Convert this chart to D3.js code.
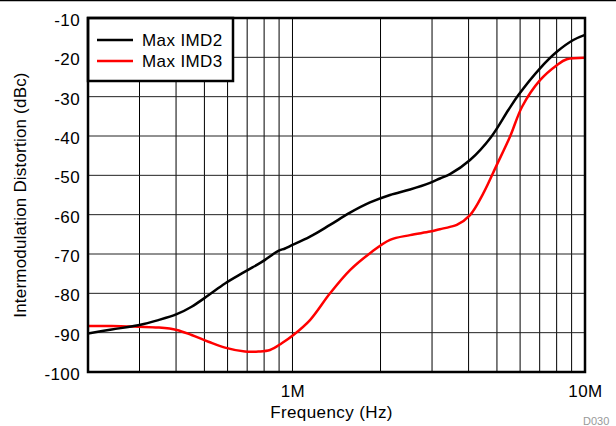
<!DOCTYPE html>
<html>
<head>
<meta charset="utf-8">
<script src="https://cdn.jsdelivr.net/npm/d3@7"></script>
<style>
  body { margin: 0; background: #fff; }
  svg { display: block; }
  text { font-family: "Liberation Sans", Arial, Helvetica, sans-serif; }
</style>
</head>
<body>
<svg id="chart" width="616" height="426"></svg>
<script>
// ---- Data ----
const seriesNames = ["Max IMD2", "Max IMD3"];
const seriesColors = ["#000000", "#ff0000"];

const imd2Freq = [200e3, 241e3, 297e3, 348e3, 402e3, 452e3, 516e3, 588e3, 688e3, 806e3, 849e3, 895e3, 943e3, 981e3,
  1.148e6, 1.344e6, 1.573e6, 1.841e6, 2.155e6, 2.523e6, 2.953e6, 3.193e6, 3.455e6, 4.046e6, 4.77e6, 5.47e6,
  5.92e6, 7.02e6, 8.01e6, 9.12e6, 10e6];
const imd2Val = [-90.2, -89.2, -88.1, -86.8, -85.3, -83.4, -80.5, -77.5, -74.5, -71.5, -70.3, -69.2, -68.6, -68.0,
  -65.6, -62.6, -59.5, -56.9, -55.0, -53.6, -51.9, -50.8, -49.7, -46.1, -40.3, -33.4,
  -29.6, -22.8, -18.6, -15.6, -14.3];

const imd3Freq = [200e3, 241e3, 297e3, 348e3, 402e3, 452e3, 516e3, 588e3, 688e3, 764e3, 838e3, 919e3, 1.007e6,
  1.148e6, 1.344e6, 1.573e6, 1.841e6, 2.155e6, 2.523e6, 2.953e6, 3.193e6, 3.455e6, 3.645e6, 4.046e6, 4.49e6,
  4.99e6, 5.54e6, 6.1e6, 7.02e6, 8.01e6, 8.66e6, 10e6];
const imd3Val = [-88.3, -88.3, -88.5, -88.7, -89.3, -90.6, -92.3, -93.8, -94.8, -94.8, -94.4, -92.7, -90.6,
  -86.8, -80.0, -74.1, -69.8, -66.4, -65.2, -64.3, -63.7, -63.1, -62.6, -60.1, -54.6,
  -47.4, -40.2, -32.5, -25.8, -22.0, -20.5, -20.1];

const yTicks = [-10, -20, -30, -40, -50, -60, -70, -80, -90, -100];
const xGrid = [300e3, 400e3, 500e3, 600e3, 700e3, 800e3, 900e3, 1e6, 2e6, 3e6, 4e6, 5e6, 6e6, 7e6, 8e6, 9e6];
const xTickValues = [1e6, 10e6];
const xTickLabels = ["1M", "10M"];
const xTitle = "Frequency (Hz)";
const yTitle = "Intermodulation Distortion (dBc)";
const figId = "D030";

// ---- Layout ----
const svg = d3.select("#chart");
const W = 616, H = 426;
const L = 88, R = 585, T = 18, B = 372;

const x = d3.scaleLog().domain([200e3, 10e6]).range([L, R]);
const y = d3.scaleLinear().domain([-100, -10]).range([B, T]);

// top rule
svg.append("line").attr("x1", 0).attr("x2", W).attr("y1", 0.5).attr("y2", 0.5)
  .attr("stroke", "#000").attr("stroke-width", 1.5);

// grid
const grid = svg.append("g");
grid.selectAll("line.v").data(xGrid).join("line").attr("class", "v")
  .attr("x1", d => x(d)).attr("x2", d => x(d)).attr("y1", T).attr("y2", B)
  .attr("stroke", "#000").attr("stroke-width", 1);
grid.selectAll("line.h").data(yTicks).join("line").attr("class", "h")
  .attr("x1", L).attr("x2", R).attr("y1", d => y(d)).attr("y2", d => y(d))
  .attr("stroke", "#222").attr("stroke-width", 1);

// curves
const series = [
  imd2Freq.map((f, i) => [f, imd2Val[i]]),
  imd3Freq.map((f, i) => [f, imd3Val[i]])
];
const line = d3.line().x(d => x(d[0])).y(d => y(d[1])).curve(d3.curveCatmullRom.alpha(0.5));
// draw red below black
[1, 0].forEach(i => {
  svg.append("path").datum(series[i]).attr("d", line)
    .attr("fill", "none").attr("stroke", seriesColors[i]).attr("stroke-width", 2.5)
    .attr("stroke-linejoin", "round");
});

// legend
const lg = svg.append("g");
lg.append("rect").attr("x", L).attr("y", T).attr("width", 145).attr("height", 63)
  .attr("fill", "#fff").attr("stroke", "#000").attr("stroke-width", 2.5);
seriesNames.forEach((n, i) => {
  const yy = 40 + i * 21;
  lg.append("line").attr("x1", 97).attr("x2", 133).attr("y1", yy).attr("y2", yy)
    .attr("stroke", seriesColors[i]).attr("stroke-width", 2.5);
  lg.append("text").attr("x", 142).attr("y", yy).attr("dy", "0.36em")
    .attr("font-size", 17).attr("letter-spacing", 0.4).attr("fill", "#000").text(n);
});

// frame
svg.append("rect").attr("x", L).attr("y", T).attr("width", R - L).attr("height", B - T)
  .attr("fill", "none").attr("stroke", "#000").attr("stroke-width", 2.5);

// y axis
const yAxis = d3.axisLeft(y).tickValues(yTicks).tickSize(0).tickPadding(0)
  .tickFormat(d => String(d));
const gy = svg.append("g").attr("transform", `translate(80,0)`).call(yAxis);
gy.select(".domain").remove();
gy.selectAll("text").attr("font-size", 17).attr("letter-spacing", 0.4)
  .attr("font-family", "Liberation Sans, Arial, sans-serif").attr("fill", "#000")
  .attr("dy", "0.45em");

// x axis
const xAxis = d3.axisBottom(x).tickValues(xTickValues).tickSize(0).tickPadding(0)
  .tickFormat((d, i) => xTickLabels[i]);
const gx = svg.append("g").attr("transform", `translate(0,385)`).call(xAxis);
gx.select(".domain").remove();
gx.selectAll("text").attr("font-size", 17).attr("letter-spacing", 0.4)
  .attr("font-family", "Liberation Sans, Arial, sans-serif").attr("fill", "#000");

// titles
svg.append("text").attr("x", (L + R) / 2 - 5).attr("y", 418).attr("text-anchor", "middle")
  .attr("font-size", 17).attr("letter-spacing", 0.4).text(xTitle);
svg.append("text").attr("transform", `translate(26,${(T + B) / 2}) rotate(-90)`)
  .attr("text-anchor", "middle").attr("font-size", 17).attr("letter-spacing", 0.2).text(yTitle);

svg.append("text").attr("x", 583).attr("y", 425).attr("font-size", 11)
  .attr("fill", "#999").text(figId);
</script>
</body>
</html>
